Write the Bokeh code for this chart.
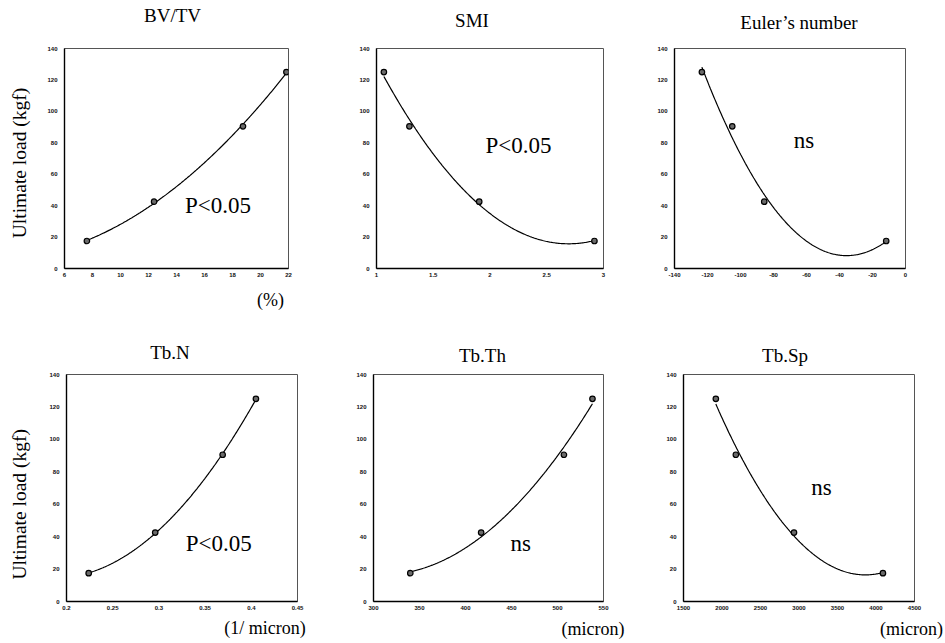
import numpy as np
from bokeh.plotting import figure
from bokeh.models import Range1d, FixedTicker, Label, LinearAxis
from bokeh.layouts import column, row
from bokeh.embed import file_html
from bokeh.resources import INLINE

# ---------------- data ----------------
y_ticks = [0, 20, 40, 60, 80, 100, 120, 140]
y_tick_labels = ["0", "20", "40", "60", "80", "100", "120", "140"]

bvtv_x = [7.6, 12.4, 18.75, 21.85]
bvtv_y = [17.5, 42.5, 90.5, 125.0]
bvtv_ticks = [6, 8, 10, 12, 14, 16, 18, 20, 22]
bvtv_tick_labels = ["6", "8", "10", "12", "14", "16", "18", "20", "22"]

smi_x = [1.065, 1.29, 1.905, 2.92]
smi_y = [125.0, 90.5, 42.5, 17.5]
smi_ticks = [1, 1.5, 2, 2.5, 3]
smi_tick_labels = ["1", "1.5", "2", "2.5", "3"]

euler_x = [-123.4, -105.0, -85.6, -11.7]
euler_y = [125.0, 90.5, 42.5, 17.5]
euler_ticks = [-140, -120, -100, -80, -60, -40, -20, 0]
euler_tick_labels = ["-140", "-120", "-100", "-80", "-60", "-40", "-20", "0"]

tbn_x = [0.224, 0.296, 0.369, 0.405]
tbn_y = [17.5, 42.5, 90.5, 125.0]
tbn_ticks = [0.2, 0.25, 0.3, 0.35, 0.4, 0.45]
tbn_tick_labels = ["0.2", "0.25", "0.3", "0.35", "0.4", "0.45"]

tbth_x = [340.0, 417.0, 507.0, 538.0]
tbth_y = [17.5, 42.5, 90.5, 125.0]
tbth_ticks = [300, 350, 400, 450, 500, 550]
tbth_tick_labels = ["300", "350", "400", "450", "500", "550"]

tbsp_x = [1920.0, 2180.0, 2935.0, 4090.0]
tbsp_y = [125.0, 90.5, 42.5, 17.5]
tbsp_ticks = [1500, 2000, 2500, 3000, 3500, 4000, 4500]
tbsp_tick_labels = ["1500", "2000", "2500", "3000", "3500", "4000", "4500"]

titles = ["BV/TV", "SMI", "Euler\u2019s number", "Tb.N", "Tb.Th", "Tb.Sp"]
stats = ["P<0.05", "P<0.05", "ns", "P<0.05", "ns", "ns"]
units = ["(%)", None, None, "(1/ micron)", "(micron)", "(micron)"]
y_label = "Ultimate load (kgf)"

# ---------------- layout / placement (pixels) ----------------
SERIF = "Liberation Serif"
SANS = "Liberation Sans"

# w/h: figure size; l/r/t/b: borders around the plot frame
# tc/ts: title centre (px from frame left) / baseline standoff above frame
# uc/us: unit label centre (px from frame left) / standoff below x tick labels
# yc/ys: y label centre (px above frame bottom) / standoff left of y tick labels
specs = [
    dict(x=bvtv_x, y=bvtv_y, xr=(6, 22), ticks=bvtv_ticks, tl=bvtv_tick_labels,
         stat_xy=(14.6, 39.9),
         w=315, h=326, l=64, r=27, t=48, b=57,
         tc=108, ts=23, uc=206, us=10, yc=106, ys=14),
    dict(x=smi_x, y=smi_y, xr=(1, 3), ticks=smi_ticks, tl=smi_tick_labels,
         stat_xy=(1.96, 78.4),
         w=313, h=326, l=61, r=25, t=44, b=57,
         tc=95.5, ts=18),
    dict(x=euler_x, y=euler_y, xr=(-140, 0), ticks=euler_ticks, tl=euler_tick_labels,
         stat_xy=(-67.8, 81.2),
         w=315, h=326, l=46, r=38, t=42, b=58,
         tc=124.5, ts=16),
    dict(x=tbn_x, y=tbn_y, xr=(0.2, 0.45), ticks=tbn_ticks, tl=tbn_tick_labels,
         stat_xy=(0.329, 35.6),
         w=315, h=316, l=66, r=18, t=48, b=39,
         tc=103.5, ts=12, uc=198.5, us=5, yc=98, ys=16),
    dict(x=tbth_x, y=tbth_y, xr=(300, 550), ticks=tbth_ticks, tl=tbth_tick_labels,
         stat_xy=(449, 35.7),
         w=313, h=316, l=58, r=25, t=47, b=41,
         tc=109, ts=9, uc=219.5, us=6),
    dict(x=tbsp_x, y=tbsp_y, xr=(1500, 4500), ticks=tbsp_ticks, tl=tbsp_tick_labels,
         stat_xy=(3160, 70.6),
         w=315, h=316, l=55, r=29, t=47, b=41,
         tc=101.5, ts=9, uc=229, us=6),
]


def text_axis(p, side, rng, pos, text, size, standoff):
    if side in ("above", "below"):
        ax = LinearAxis(x_range_name=rng)
    else:
        ax = LinearAxis(y_range_name=rng)
    ax.ticker = FixedTicker(ticks=[pos])
    ax.major_label_overrides = {pos: text}
    ax.axis_line_color = None
    ax.major_tick_line_color = None
    ax.minor_tick_line_color = None
    ax.major_tick_in = 0
    ax.major_tick_out = 0
    ax.minor_tick_in = 0
    ax.minor_tick_out = 0
    ax.major_label_standoff = int(round(standoff))
    ax.major_label_text_font = SERIF
    ax.major_label_text_font_size = size
    ax.major_label_text_color = "black"
    if side == "left":
        ax.major_label_orientation = "parallel"
    p.add_layout(ax, side)


def make_panel(i, s):
    x0, x1 = s["xr"]
    fw = s["w"] - s["l"] - s["r"]
    fh = s["h"] - s["t"] - s["b"]

    p = figure(width=s["w"], height=s["h"], x_range=Range1d(x0, x1), y_range=Range1d(0, 140),
               output_backend="svg", toolbar_location=None, title=None,
               min_border_left=s["l"], min_border_right=s["r"],
               min_border_top=s["t"], min_border_bottom=s["b"])
    p.extra_x_ranges = {"px": Range1d(0, fw)}
    p.extra_y_ranges = {"py": Range1d(0, fh)}
    p.xgrid.visible = False
    p.ygrid.visible = False
    p.background_fill_color = "white"
    p.border_fill_color = "white"
    p.outline_line_color = "#555555"
    p.outline_line_width = 1

    xa = p.xaxis[0]
    ya = p.yaxis[0]
    xa.ticker = FixedTicker(ticks=s["ticks"])
    xa.major_label_overrides = {t: lab for t, lab in zip(s["ticks"], s["tl"])}
    ya.ticker = FixedTicker(ticks=y_ticks)
    ya.major_label_overrides = {t: lab for t, lab in zip(y_ticks, y_tick_labels)}
    for ax in (xa, ya):
        ax.axis_line_color = "black"
        ax.axis_line_width = 1.4
        ax.major_tick_in = 0
        ax.major_tick_out = 0
        ax.minor_tick_in = 0
        ax.minor_tick_out = 0
        ax.major_label_text_font = SANS
        ax.major_label_text_font_style = "bold"
        ax.major_label_text_font_size = "6px"
        ax.major_label_text_color = "#111111"
    ya.major_label_standoff = 7
    xa.major_label_standoff = 4

    # fitted trend curve (2nd-order least squares through the points)
    xs = np.array(s["x"], dtype=float)
    ys = np.array(s["y"], dtype=float)
    coef = np.polyfit(xs, ys, 2)
    cx = np.linspace(xs.min(), xs.max(), 200)
    p.line(cx, np.polyval(coef, cx), line_color="black", line_width=1.2)
    p.scatter(s["x"], s["y"], size=5.5, marker="circle", fill_color="#6a6a6a",
              line_color="black", line_width=1.2)

    # statistics text inside the frame
    sx_, sy_ = s["stat_xy"]
    p.add_layout(Label(x=sx_, y=sy_, text=stats[i], text_font=SERIF,
                       text_font_size="23px", text_color="black",
                       text_align="left", text_baseline="alphabetic"))

    # title, unit label and y label as single-tick text axes
    text_axis(p, "above", "px", s["tc"], titles[i], "19px", s["ts"])
    if units[i]:
        text_axis(p, "below", "px", s["uc"], units[i], "18px", s["us"])
    if "yc" in s:
        text_axis(p, "left", "py", s["yc"], y_label, "19.5px", s["ys"])
    return p


figs = [make_panel(i, s) for i, s in enumerate(specs)]
layout = column(row(figs[0], figs[1], figs[2], spacing=0),
                row(figs[3], figs[4], figs[5], spacing=0), spacing=0)

open("out.html", "w").write(file_html(layout, INLINE))
